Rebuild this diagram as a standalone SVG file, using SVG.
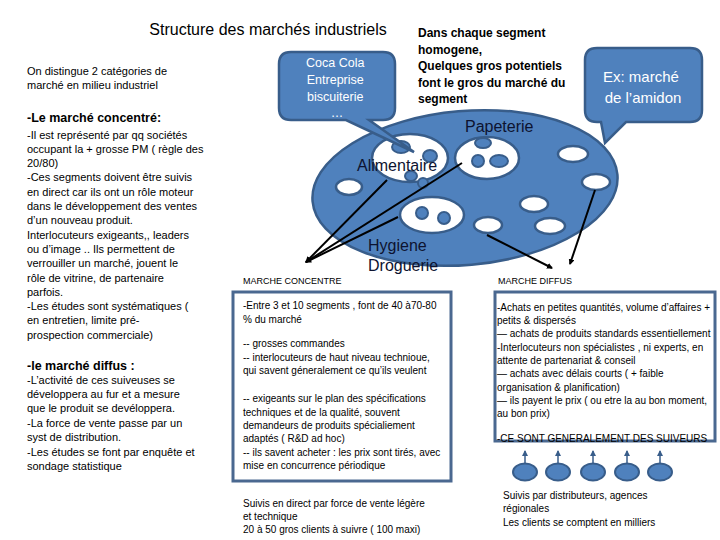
<svg xmlns="http://www.w3.org/2000/svg" width="720" height="540" viewBox="0 0 720 540">
<defs>
<style>
text{font-family:"Liberation Sans",Arial,sans-serif;fill:#000}
.t11{font-size:11px}
.t10{font-size:10px}
.hb{font-size:12.5px;font-weight:bold}
.big{font-size:16px;fill:#0d1330}
.cw{fill:#fff;text-anchor:middle}
.blue{fill:#4F81BD;stroke:#385D8A;stroke-width:2.5}
.hole{fill:#fff;stroke:#385D8A;stroke-width:2.5}
.dot{fill:#4F81BD;stroke:#385D8A;stroke-width:2}
.box{fill:none;stroke:#4a6890;stroke-width:3}
.ln{stroke:#000;stroke-width:2;fill:none}
.up{stroke:#385D8A;stroke-width:1.5;fill:none}
</style>
<marker id="ah" markerWidth="6" markerHeight="6" refX="5" refY="3" orient="auto" markerUnits="userSpaceOnUse">
<path d="M0,0 L6,3 L0,6 Z" fill="#000"/>
</marker>
<marker id="au" markerWidth="6" markerHeight="6" refX="5" refY="3" orient="auto" markerUnits="userSpaceOnUse">
<path d="M0,0 L6,3 L0,6 Z" fill="#385D8A"/>
</marker>
</defs>
<rect width="720" height="540" fill="#fff"/>

<g id="title"><text x="268" y="35" font-size="16" text-anchor="middle">Structure des marchés industriels</text></g>

<g id="left-column">
<text class="t11" x="27" y="75">On distingue 2 catégories de</text>
<text class="t11" x="27" y="89">marché en milieu industriel</text>
<text class="hb" x="27" y="122">-Le marché concentré:</text>
<text class="t11" x="27">
<tspan x="27" y="138.5">-Il est représenté par qq sociétés</tspan>
<tspan x="27" y="152.8">occupant la + grosse PM ( règle des</tspan>
<tspan x="27" y="167.1">20/80)</tspan>
<tspan x="27" y="181.4">-Ces segments doivent être suivis</tspan>
<tspan x="27" y="195.7">en direct  car ils ont un rôle moteur</tspan>
<tspan x="27" y="210">dans le développement des ventes</tspan>
<tspan x="27" y="224.3">d’un nouveau produit.</tspan>
<tspan x="27" y="238.6">Interlocuteurs exigeants,, leaders</tspan>
<tspan x="27" y="252.9">ou d’image .. Ils permettent de</tspan>
<tspan x="27" y="267.2">verrouiller un marché, jouent le</tspan>
<tspan x="27" y="281.5">rôle de vitrine,  de partenaire</tspan>
<tspan x="27" y="295.8">parfois.</tspan>
<tspan x="27" y="310.1">-Les études sont systématiques (</tspan>
<tspan x="27" y="324.4">en entretien, limite pré-</tspan>
<tspan x="27" y="338.7">prospection commerciale)</tspan>
</text>
<text class="hb" x="27" y="369.5">-le marché diffus :</text>
<text class="t11">
<tspan x="27" y="384">-L’activité de ces suiveuses se</tspan>
<tspan x="27" y="398">développera au fur et a mesure</tspan>
<tspan x="27" y="412">que le produit se devéloppera.</tspan>
<tspan x="27" y="427">-La force de vente passe par un</tspan>
<tspan x="27" y="441">syst de distribution.</tspan>
<tspan x="27" y="456">-Les études se font par enquête et</tspan>
<tspan x="27" y="470">sondage statistique</tspan>
</text>
</g>

<g id="segment-note">
<text font-size="12" font-weight="bold">
<tspan x="418" y="37">Dans chaque segment</tspan>
<tspan x="418" y="54">homogene,</tspan>
<tspan x="418" y="70">Quelques gros potentiels</tspan>
<tspan x="418" y="87">font le gros du marché du</tspan>
<tspan x="418" y="103">segment</tspan>
</text>
</g>

<g id="market-ellipse">
<ellipse class="blue" cx="465" cy="188" rx="153" ry="77" transform="rotate(-5 465 188)" stroke-width="3"/>
<g id="alimentaire">
<ellipse class="hole" cx="410" cy="158" rx="38" ry="24"/>
<ellipse class="dot" cx="401" cy="147" rx="9" ry="6"/>
<ellipse class="dot" cx="430" cy="156" rx="7" ry="6"/>
<ellipse class="dot" cx="411" cy="176" rx="6" ry="5"/>
<ellipse class="dot" cx="423" cy="183" rx="5" ry="5"/>
</g>
<g id="papeterie">
<ellipse class="hole" cx="487" cy="158" rx="32" ry="21"/>
<ellipse class="dot" cx="483" cy="143" rx="8" ry="5"/>
<ellipse class="dot" cx="478" cy="161" rx="6" ry="6"/>
<ellipse class="dot" cx="499" cy="161" rx="9" ry="6"/>
</g>
<g id="hygiene">
<ellipse class="hole" cx="432" cy="215" rx="32" ry="18"/>
<ellipse class="dot" cx="422" cy="213" rx="6" ry="6"/>
<ellipse class="dot" cx="444" cy="218" rx="6" ry="6"/>
</g>
<g id="small-segments">
<ellipse class="hole" cx="349" cy="187" rx="13" ry="8"/>
<ellipse class="hole" cx="488" cy="225" rx="14" ry="8"/>
<ellipse class="hole" cx="573" cy="154" rx="15" ry="8"/>
<ellipse class="hole" cx="596" cy="182" rx="14" ry="8"/>
<ellipse class="hole" cx="534" cy="204" rx="14" ry="8"/>
<ellipse class="hole" cx="550" cy="226" rx="15" ry="8"/>
</g>
<text class="big" x="465" y="132">Papeterie</text>
<text class="big" x="357" y="171">Alimentaire</text>
<text class="big" x="368" y="251">Hygiene</text>
<text class="big" x="368" y="271">Droguerie</text>
</g>

<g id="callout-coca">
<path class="blue" stroke-width="3" d="M291,52 H383 Q395,52 395,64 V108 Q395,120 383,120 H369 L414,152 L346,120 H291 Q279,120 279,108 V64 Q279,52 291,52 Z"/>
<text class="cw" font-size="12.5">
<tspan x="337" y="67">Coca Cola</tspan>
<tspan x="337" y="84">Entreprise</tspan>
<tspan x="337" y="101">biscuiterie</tspan>
<tspan x="337" y="117">…</tspan>
</text>
</g>

<g id="callout-amidon">
<path class="blue" stroke-width="3" d="M597,48 H690 Q702,48 702,60 V110 Q702,122 690,122 H626 L605,143 L601,122 H597 Q585,122 585,110 V60 Q585,48 597,48 Z"/>
<text class="cw" font-size="15">
<tspan x="643" y="82">Ex: marché</tspan>
<tspan x="643" y="103">de l’amidon</tspan>
</text>
</g>

<g id="connectors">
<line class="ln" x1="387" y1="180" x2="306" y2="262" marker-end="url(#ah)"/>
<line class="ln" x1="462" y1="163" x2="306" y2="262" marker-end="url(#ah)"/>
<line class="ln" x1="398" y1="217" x2="306" y2="262" marker-end="url(#ah)"/>
<line class="ln" x1="487" y1="235" x2="552" y2="268" marker-end="url(#ah)"/>
<line class="ln" x1="595" y1="190" x2="570" y2="264" marker-end="url(#ah)"/>
<line class="up" x1="525" y1="463" x2="525" y2="451" marker-end="url(#au)"/>
<line class="up" x1="558" y1="463" x2="558" y2="451" marker-end="url(#au)"/>
<line class="up" x1="593" y1="463" x2="593" y2="451" marker-end="url(#au)"/>
<line class="up" x1="627" y1="463" x2="627" y2="451" marker-end="url(#au)"/>
<line class="up" x1="660" y1="463" x2="660" y2="451" marker-end="url(#au)"/>
</g>

<g id="marche-concentre">
<text x="243" y="284" font-size="9">MARCHE CONCENTRE</text>
<rect class="box" x="233" y="292" width="218" height="189"/>
<text class="t10">
<tspan x="243" y="308.5">-Entre 3 et 10 segments , font de 40 à70-80</tspan>
<tspan x="243" y="322.5">% du marché</tspan>
<tspan x="243" y="346.5">-- grosses commandes</tspan>
<tspan x="243" y="360.5">-- interlocuteurs de haut niveau technioue,</tspan>
<tspan x="243" y="373.5">qui savent géneralement ce qu’ils veulent</tspan>
<tspan x="243" y="401.5">-- exigeants sur le plan des spécifications</tspan>
<tspan x="243" y="415.5">techniques et de la qualité, souvent</tspan>
<tspan x="243" y="428.5">demandeurs de produits spécialiement</tspan>
<tspan x="243" y="441.5">adaptés ( R&amp;D ad hoc)</tspan>
<tspan x="243" y="455.5">-- ils savent acheter : les prix sont tirés, avec</tspan>
<tspan x="243" y="468.5">mise en concurrence périodique</tspan>
</text>
<text class="t10">
<tspan x="243" y="506.5">Suivis  en direct par force de vente légère</tspan>
<tspan x="243" y="519.5">et technique</tspan>
<tspan x="243" y="533">20 à 50 gros clients à suivre ( 100 maxi)</tspan>
</text>
</g>

<g id="marche-diffus">
<text x="498" y="284" font-size="9">MARCHE DIFFUS</text>
<rect class="box" x="495" y="292" width="220" height="149"/>
<text class="t10">
<tspan x="497" y="310.5">-Achats en petites quantités, volume d’affaires +</tspan>
<tspan x="497" y="323.5">petits &amp; dispersés</tspan>
<tspan x="497" y="336.5">— achats de produits standards essentiellement</tspan>
<tspan x="497" y="350.5">-Interlocuteurs non spécialistes , ni experts, en</tspan>
<tspan x="497" y="363.5">attente de partenariat &amp; conseil</tspan>
<tspan x="497" y="376.5">— achats avec délais courts ( + faible</tspan>
<tspan x="497" y="390.5">organisation &amp; planification)</tspan>
<tspan x="497" y="403.5">— ils payent le prix ( ou etre la au bon moment,</tspan>
<tspan x="497" y="416.5">au bon prix)</tspan>
<tspan x="497" y="442">-CE SONT GENERALEMENT DES SUIVEURS</tspan>
</text>
<g id="followers">
<ellipse class="dot" cx="525" cy="472" rx="12" ry="8.5"/>
<ellipse class="dot" cx="558" cy="472" rx="12" ry="8.5"/>
<ellipse class="dot" cx="593" cy="472" rx="12" ry="8.5"/>
<ellipse class="dot" cx="627" cy="472" rx="12" ry="8.5"/>
<ellipse class="dot" cx="660" cy="472" rx="12" ry="8.5"/>
</g>
<text class="t10">
<tspan x="503" y="498.5">Suivis par distributeurs, agences</tspan>
<tspan x="503" y="512">régionales</tspan>
<tspan x="503" y="525.5">Les clients se comptent en milliers</tspan>
</text>
</g>
</svg>
